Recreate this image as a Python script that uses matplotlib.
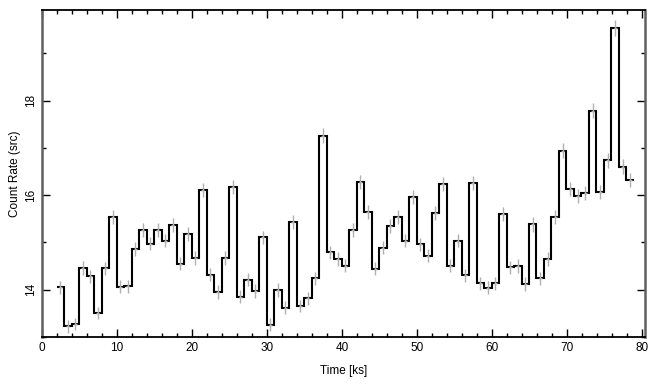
import numpy as np
import matplotlib
matplotlib.use("Agg")
import matplotlib.pyplot as plt
from matplotlib.ticker import MultipleLocator

plt.rcParams['font.family'] = ['Liberation Sans', 'DejaVu Sans']

# 1 ks bins, first bin starts near 1.95 ks
bin_start = 1.95
rate = [14.05, 13.22, 13.28, 14.46, 14.28, 13.50, 14.45, 15.54, 14.06, 14.07,
        14.86, 15.27, 14.97, 15.27, 15.04, 15.37, 14.55, 15.18, 14.67, 16.11,
        14.32, 13.95, 14.67, 16.17, 13.85, 14.21, 13.97, 15.11, 13.26, 13.99,
        13.62, 15.44, 13.66, 13.82, 14.24, 17.26, 14.79, 14.65, 14.51, 15.26,
        16.28, 15.64, 14.44, 14.89, 15.34, 15.54, 15.04, 15.96, 14.96, 14.72,
        15.62, 16.24, 14.51, 15.04, 14.30, 16.25, 14.13, 14.04, 14.13, 15.61,
        14.47, 14.50, 14.12, 15.38, 14.24, 14.65, 15.54, 16.94, 16.13, 15.98,
        16.05, 17.79, 16.07, 16.74, 19.53, 16.60, 16.32]
rate_err = [0.14, 0.13, 0.13, 0.14, 0.14, 0.13, 0.14, 0.15, 0.14, 0.14,
            0.14, 0.15, 0.14, 0.15, 0.14, 0.15, 0.14, 0.15, 0.14, 0.15,
            0.14, 0.14, 0.14, 0.15, 0.14, 0.14, 0.14, 0.14, 0.13, 0.14,
            0.13, 0.15, 0.13, 0.14, 0.14, 0.16, 0.14, 0.14, 0.14, 0.15,
            0.15, 0.15, 0.14, 0.14, 0.15, 0.15, 0.14, 0.15, 0.14, 0.14,
            0.15, 0.15, 0.14, 0.14, 0.14, 0.15, 0.14, 0.14, 0.14, 0.15,
            0.14, 0.14, 0.14, 0.15, 0.14, 0.14, 0.15, 0.16, 0.15, 0.15,
            0.15, 0.16, 0.15, 0.16, 0.17, 0.16, 0.15]

edges = bin_start + np.arange(len(rate) + 1)
centres = bin_start + 0.5 + np.arange(len(rate))

fig = plt.figure(figsize=(6.56, 3.85), dpi=100)
ax = fig.add_axes([0.064, 0.125, 0.919, 0.849])

ax.stairs(rate, edges, baseline=None, color='black', lw=1.5, zorder=2)
ax.errorbar(centres, rate, yerr=rate_err, xerr=0.2, fmt='none',
            ecolor='#b0b0b0', elinewidth=1.0, capsize=0, zorder=3)

ax.set_xlim(0, 80.4)
ax.set_ylim(13.0, 19.92)
ax.xaxis.set_major_locator(MultipleLocator(10))
ax.xaxis.set_minor_locator(MultipleLocator(2))
ax.yaxis.set_major_locator(MultipleLocator(2))
ax.yaxis.set_minor_locator(MultipleLocator(1))

ax.tick_params(which='both', direction='in', top=True, right=True,
               labelsize=8.5, color='black')
ax.tick_params(which='major', length=6, width=1)
ax.tick_params(which='minor', length=3, width=1)
for lab in ax.get_yticklabels():
    lab.set_rotation(90)
    lab.set_va('center')

for side in ['left', 'right']:
    ax.spines[side].set_color('#606060')
    ax.spines[side].set_linewidth(1.8)
for side in ['top', 'bottom']:
    ax.spines[side].set_color('black')
    ax.spines[side].set_linewidth(1.3)

ax.set_xlabel('Time [ks]', fontsize=8.5, labelpad=8)
ax.set_ylabel('Count Rate (src)', fontsize=8.5, labelpad=3)

fig.savefig('out.png', dpi=100)
